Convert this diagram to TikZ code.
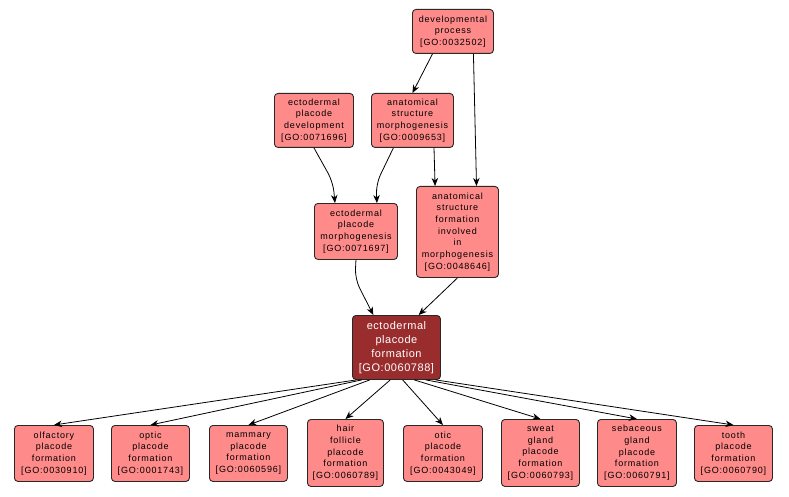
\documentclass[tikz,border=0pt]{standalone}
\usepackage{fontspec}
\usetikzlibrary{arrows.meta,calc}
\newfontfamily\gofont[LetterSpace=9]{Liberation Sans}
\newfontfamily\gomainfont[LetterSpace=5]{Liberation Sans}
\definecolor{gofill}{RGB}{255,138,138}
\definecolor{gomain}{RGB}{153,45,45}
\definecolor{goline}{RGB}{40,40,40}
\tikzset{
  gonode/.style={draw=goline, line width=0.9pt, fill=gofill, rounded corners=3.5pt,
    align=center, inner sep=0pt, anchor=north west,
    font=\gofont\fontsize{9}{11.7}\selectfont},
  gomainnode/.style={gonode, fill=gomain, text=white,
    font=\gomainfont\fontsize{11}{14}\selectfont},
  goedge/.style={draw=black, line width=0.8pt, rounded corners=10pt,
    -{Stealth[length=8pt,width=6.5pt,inset=2.5pt]}}
}
\newcommand{\gobox}[7][gonode]{%
  \node[#1, minimum width=#4pt-#2pt, minimum height=#5pt-#3pt] (#6) at (#2pt,-#3pt) {#7};}
\begin{document}
\begin{tikzpicture}
\useasboundingbox[fill=white] (0,0) rectangle (789pt,-497pt);
\gobox{412}{9}{493}{53}{dp}{developmental\\process\\{[GO:0032502]}}
\gobox{274}{93}{353}{147}{epd}{ectodermal\\placode\\development\\{[GO:0071696]}}
\gobox{371}{93}{453}{147}{asm}{anatomical\\structure\\morphogenesis\\{[GO:0009653]}}
\gobox{314}{203}{397}{259}{epm}{ectodermal\\placode\\morphogenesis\\{[GO:0071697]}}
\gobox{416}{186}{498}{277}{asf}{anatomical\\structure\\formation\\involved\\in\\morphogenesis\\{[GO:0048646]}}
\gobox[gomainnode]{352}{315}{440}{379}{epf}{ectodermal\\placode\\formation\\{[GO:0060788]}}
\gobox{14}{425}{93}{481}{olf}{olfactory\\placode\\formation\\{[GO:0030910]}}
\gobox{111}{425}{189}{481}{opt}{optic\\placode\\formation\\{[GO:0001743]}}
\gobox{209}{425}{287}{481}{mam}{mammary\\placode\\formation\\{[GO:0060596]}}
\gobox{307}{419}{383}{486}{hair}{hair\\follicle\\placode\\formation\\{[GO:0060789]}}
\gobox{403}{425}{482}{481}{otic}{otic\\placode\\formation\\{[GO:0043049]}}
\gobox{501}{419}{579}{486}{sweat}{sweat\\gland\\placode\\formation\\{[GO:0060793]}}
\gobox{597}{419}{676}{486}{seb}{sebaceous\\gland\\placode\\formation\\{[GO:0060791]}}
\gobox{694}{425}{772}{481}{tooth}{tooth\\placode\\formation\\{[GO:0060790]}}

\coordinate (b1) at (333pt,-182pt);
\coordinate (b2) at (376pt,-184pt);
\coordinate (b3) at (355pt,-279pt);

\draw[goedge] ($(dp.south west)!0.25!(dp.south east)$) -- (asm.north);
\draw[goedge] ($(dp.south west)!0.75!(dp.south east)$) -- ($(asf.north west)!0.73!(asf.north east)$);
\draw[goedge] ($(asm.south west)!0.76!(asm.south east)$) -- ($(asf.north west)!0.23!(asf.north east)$);
\draw[goedge] (epd.south) -- (b1) -- ($(epm.north west)!0.25!(epm.north east)$);
\draw[goedge] ($(asm.south west)!0.27!(asm.south east)$) -- (b2) -- ($(epm.north west)!0.75!(epm.north east)$);
\draw[goedge] (epm.south) -- (b3) -- ($(epf.north west)!0.24!(epf.north east)$);
\draw[goedge] (asf.south) -- ($(epf.north west)!0.75!(epf.north east)$);

\draw[goedge] ($(epf.south west)!0.05!(epf.south east)$) -- (olf.north);
\draw[goedge] ($(epf.south west)!0.11!(epf.south east)$) -- (opt.north);
\draw[goedge] ($(epf.south west)!0.2!(epf.south east)$) -- (mam.north);
\draw[goedge] ($(epf.south west)!0.43!(epf.south east)$) -- (hair.north);
\draw[goedge] ($(epf.south west)!0.57!(epf.south east)$) -- (otic.north);
\draw[goedge] ($(epf.south west)!0.7!(epf.south east)$) -- (sweat.north);
\draw[goedge] ($(epf.south west)!0.83!(epf.south east)$) -- (seb.north);
\draw[goedge] ($(epf.south west)!0.94!(epf.south east)$) -- (tooth.north);
\end{tikzpicture}
\end{document}
